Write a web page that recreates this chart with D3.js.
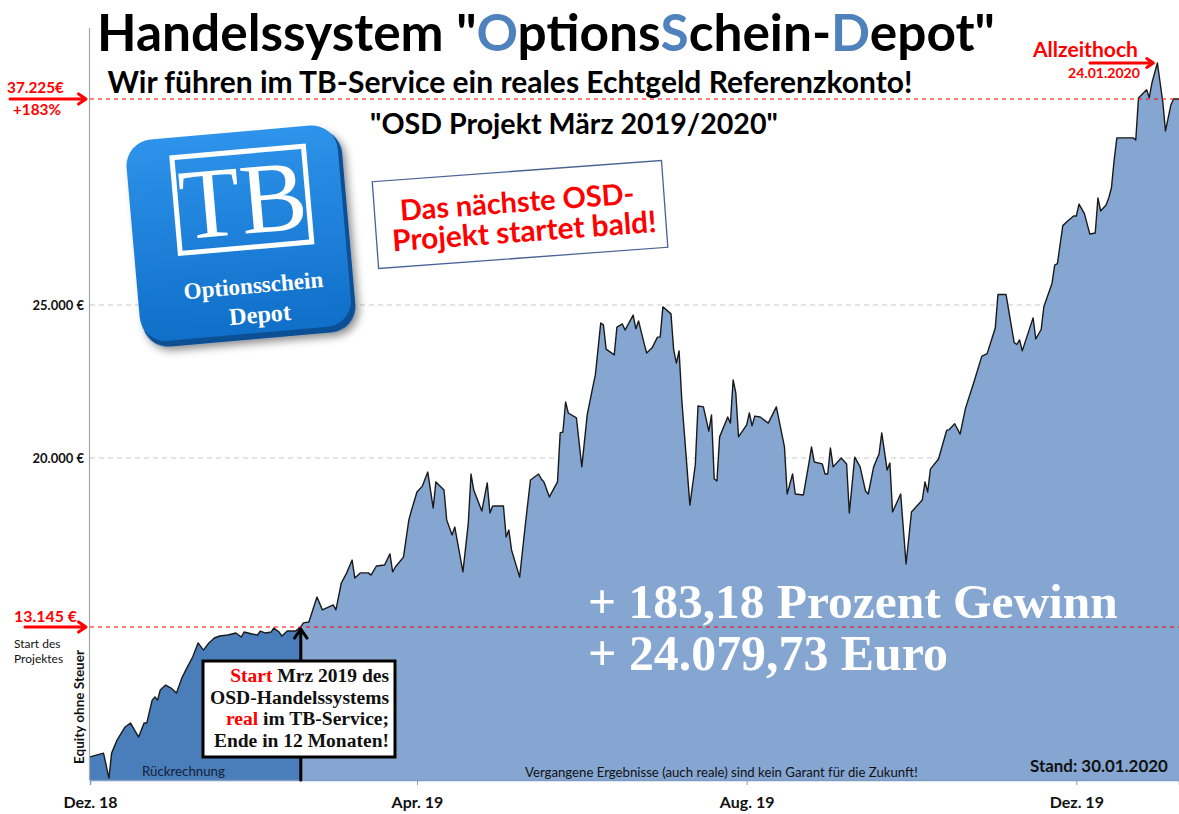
<!DOCTYPE html>
<html>
<head>
<meta charset="utf-8">
<script src="https://cdn.jsdelivr.net/npm/d3@7"></script>
<style>
  body { margin: 0; background: #fff; }
  svg { display: block; }
</style>
</head>
<body>
<svg id="chart" width="1179" height="814"></svg>
<script>
// === Daten ===
// Tage seit 01.12.2018 und Depotwert (Equity ohne Steuer, in €)
const startDate = new Date(2018, 11, 1);
const days = [0,5,7,8,10,13,15,18,20,21,23,24,25,26,28,30,32,34,36,38,
  40,42,44,46,48,51,54,56,57,60,62,63,65,67,68,70,71,73,76,78,
  79,81,84,86,90,91,93,95,97,98,100,103,104,106,109,111,112,113,116,118,
  119,121,123,125,127,128,131,132,134,135,138,140,141,142,145,147,148,149,153,154,
  155,156,159,161,163,166,167,168,170,173,174,175,176,177,180,182,184,186,187,189,
  190,191,194,195,197,198,201,202,203,205,206,208,210,211,212,215,216,217,218,219,
  222,224,225,227,229,230,231,232,233,236,237,238,239,240,243,244,245,246,248,251,
  254,257,258,260,261,264,266,267,268,271,272,273,274,275,278,280,281,283,285,287,
  288,290,292,293,295,296,297,300,302,304,308,309,310,311,314,317,318,320,322,324,
  327,330,332,335,336,339,342,343,344,345,349,350,352,353,356,357,358,360,362,364,
  365,366,368,370,372,373,374,376,377,378,379,380,386,387,388,391,392,393,395,397,
  398,400,401,403];
const equity = [7880,8030,7020,8030,8560,9090,9250,8680,9250,9250,
  10180,10310,10180,10590,10790,10670,10470,11080,11520,11930,
  12500,12210,12500,12700,12780,12820,12900,12740,12940,12860,
  12820,12980,12900,12940,13100,12940,12780,12980,12980,13145,
  13310,13350,14360,13840,14040,13840,14930,15340,15860,15130,
  15340,15340,15250,15620,15660,16110,15380,15580,15980,17490,
  17890,18620,18860,19430,17970,19030,18700,17490,16880,17200,
  15380,17360,19350,18700,17850,18990,17770,18050,18050,16800,
  17080,16270,15170,17200,19110,19350,19150,19030,18420,19030,
  20820,20850,21830,21470,21310,19640,21410,22290,22710,24410,
  24350,23560,23370,24280,24380,24180,24670,24220,24480,23760,
  23430,23600,23950,23950,24940,24710,23530,23100,23500,21900,
  18090,19720,21700,21670,20880,21410,19150,19070,20690,21340,
  21140,22550,22120,20690,21080,21470,21050,21370,21340,21140,
  21670,20360,18540,19350,18540,18500,19760,20360,19840,19760,
  19350,19350,20330,19640,20000,19760,17770,20030,19640,18660,
  18540,19640,20130,20820,19510,19800,17810,18540,15700,17810,
  18300,19030,18620,19550,19960,20900,20930,21120,20780,21630,
  22450,23320,23410,24250,25620,25620,23770,23710,23860,23500,
  24580,23890,24200,24950,26280,27370,27460,29710,30010,30280,
  30280,30990,30420,29210,29270,31350,30580,30930,31350,31960,
  33600,34920,34920,34790,37280,37780,37310,38190,39360,37060,
  35330,36870,37225,37225];
const lastDay = 403;
const projectStartDay = 78;          // Start des Projektes
const peakDay = 395;                 // Allzeithoch

const gridLevels = [20000, 25000];
const refLevels = [13145, 37225];
const refLabels = ['13.145 €', '37.225€'];
const tickDates = ['2018-12-01', '2019-04-01', '2019-08-01', '2019-12-01'];
const tickLabels = ['Dez. 18', 'Apr. 19', 'Aug. 19', 'Dez. 19'];

const rows = days.map((d, i) => ({ date: d3.timeDay.offset(startDate, d), v: equity[i] }));

// === Skalen ===
const W = 1179, H = 814;
const plot = { left: 90, right: 1179, top: 28, bottom: 780 };
const svg = d3.select('#chart');

const x = d3.scaleTime()
  .domain([startDate, d3.timeDay.offset(startDate, lastDay)])
  .range([plot.left, plot.right]);

// Achse im Original ist abschnittsweise gestaucht -> polylineare Skala
const y = d3.scaleLinear()
  .domain([6940, 13145, 20000, 25000, 37225])
  .range([plot.bottom, 627, 458, 305, 99]);

const de = d3.formatLocale({ decimal: ',', thousands: '.', grouping: [3], currency: ['', ' €'] });
const fmtEuro = de.format('$,.0f');

const blue = '#4f81bd';
const red = '#ff0000';

function fitWidth(sel, w) {
  const n = sel.node();
  const fs = parseFloat(sel.attr('font-size'));
  sel.attr('font-size', (fs * w / n.getComputedTextLength()).toFixed(2));
  return sel;
}

function arrow(g, x1, y1, x2, y2, color, sw, head) {
  const a = Math.atan2(y2 - y1, x2 - x1);
  const p = d3.path();
  p.moveTo(x1, y1); p.lineTo(x2, y2);
  p.moveTo(x2 - head * Math.cos(a - 0.6), y2 - head * Math.sin(a - 0.6));
  p.lineTo(x2, y2);
  p.lineTo(x2 - head * Math.cos(a + 0.6), y2 - head * Math.sin(a + 0.6));
  g.append('path').attr('d', p.toString()).attr('fill', 'none')
    .attr('stroke', color).attr('stroke-width', sw)
    .attr('stroke-linecap', 'round').attr('stroke-linejoin', 'round');
}

// === Flächen ===
const defs = svg.append('defs');
const xStart = x(d3.timeDay.offset(startDate, projectStartDay));
defs.append('clipPath').attr('id', 'clipBack')
  .append('rect').attr('x', plot.left).attr('y', 0).attr('width', xStart - plot.left).attr('height', H);
defs.append('clipPath').attr('id', 'clipReal')
  .append('rect').attr('x', xStart).attr('y', 0).attr('width', plot.right - xStart).attr('height', H);

// Gitterlinien
svg.append('g').selectAll('line').data(gridLevels).join('line')
  .attr('x1', plot.left).attr('x2', plot.right)
  .attr('y1', d => y(d)).attr('y2', d => y(d))
  .attr('stroke', '#c9c9c9').attr('stroke-width', 1).attr('stroke-dasharray', '5,4');

const area = d3.area().x(d => x(d.date)).y0(plot.bottom).y1(d => y(d.v));
const line = d3.line().x(d => x(d.date)).y(d => y(d.v));

svg.append('path').datum(rows).attr('d', area).attr('fill', '#4a7ebb').attr('clip-path', 'url(#clipBack)');
svg.append('path').datum(rows).attr('d', area).attr('fill', '#85a6d1').attr('clip-path', 'url(#clipReal)');
svg.append('path').datum(rows).attr('d', line).attr('fill', 'none')
  .attr('stroke', '#1a1a1a').attr('stroke-width', 1.4).attr('stroke-linejoin', 'round');

// Referenzlinien (rot gestrichelt)
svg.append('g').selectAll('line').data(refLevels).join('line')
  .attr('x1', plot.left).attr('x2', plot.right)
  .attr('y1', d => y(d)).attr('y2', d => y(d))
  .attr('stroke', red).attr('stroke-width', 1).attr('stroke-dasharray', '4,4');

// === Achsen ===
svg.append('line').attr('x1', plot.left - 0.5).attr('x2', plot.left - 0.5)
  .attr('y1', plot.top).attr('y2', plot.bottom).attr('stroke', '#a6a6a6').attr('stroke-width', 1.2);

const yAxis = svg.append('g').attr('transform', `translate(${plot.left - 4},0)`)
  .call(d3.axisLeft(y).tickValues(gridLevels).tickFormat(fmtEuro).tickSize(0).tickPadding(2));
yAxis.select('.domain').remove();
yAxis.selectAll('text').attr('font-family', 'Lato, sans-serif').attr('font-weight', 700)
  .attr('font-size', 13).attr('fill', '#111');

const xAxis = svg.append('g').attr('transform', `translate(0,${plot.bottom})`)
  .call(d3.axisBottom(x).tickValues(tickDates.map(d => d3.timeParse('%Y-%m-%d')(d)))
    .tickFormat((d, i) => tickLabels[i]).tickSize(5).tickPadding(12));
xAxis.select('.domain').attr('stroke', '#7f9cc4').attr('stroke-width', 1.5);
xAxis.selectAll('.tick line').attr('stroke', '#7f9cc4');
xAxis.selectAll('text').attr('font-family', 'Lato, sans-serif').attr('font-weight', 700)
  .attr('font-size', 16).attr('fill', '#111');

// Achsentitel
fitWidth(svg.append('text').attr('transform', 'translate(84,707) rotate(-90)')
  .attr('text-anchor', 'middle').attr('font-family', 'Lato, sans-serif').attr('font-weight', 700)
  .attr('font-size', 12).attr('fill', '#111').text('Equity ohne Steuer'), 114);

// === linke rote Markierungen ===
const lab = svg.append('g').attr('font-family', 'Lato, sans-serif').attr('font-weight', 700).attr('fill', red);
fitWidth(lab.append('text').attr('x', 7).attr('y', 93).attr('font-size', 15).text(refLabels[1]), 57);
fitWidth(lab.append('text').attr('x', 13).attr('y', 115).attr('font-size', 15).text('+183%'), 48);
fitWidth(lab.append('text').attr('x', 14).attr('y', 622).attr('font-size', 15).text(refLabels[0]), 63);
arrow(svg, 10, y(refLevels[1]), plot.left - 4, y(refLevels[1]), red, 3, 9);
arrow(svg, 25, y(refLevels[0]), plot.left - 4, y(refLevels[0]), red, 3, 9);

svg.append('g').attr('font-family', 'Lato, sans-serif').attr('font-size', 12).attr('fill', '#111')
  .selectAll('text').data(['Start des', 'Projektes']).join('text')
  .attr('x', 14).attr('y', (d, i) => 648 + i * 15).text(d => d);

// === Allzeithoch ===
const peakX = x(d3.timeDay.offset(startDate, peakDay));
const ath = svg.append('g').attr('font-family', 'Lato, sans-serif').attr('font-weight', 700).attr('fill', red);
fitWidth(ath.append('text').attr('x', 1033).attr('y', 57).attr('font-size', 17).text('Allzeithoch'), 105);
fitWidth(ath.append('text').attr('x', 1068).attr('y', 78).attr('font-size', 12).text('24.01.2020'), 72);
arrow(svg, 1090, 63, peakX - 4, 63, red, 3, 8);

// === Titel ===
const title = svg.append('text').attr('x', 546).attr('y', 51).attr('text-anchor', 'middle')
  .attr('font-family', 'Lato, sans-serif').attr('font-weight', 700).attr('font-size', 50).attr('fill', '#000');
title.append('tspan').text('Handelssystem "');
title.append('tspan').attr('fill', blue).text('O');
title.append('tspan').text('ptions');
title.append('tspan').attr('fill', blue).text('S');
title.append('tspan').text('chein-');
title.append('tspan').attr('fill', blue).text('D');
title.append('tspan').text('epot"');
fitWidth(title, 898);

fitWidth(svg.append('text').attr('x', 510).attr('y', 93).attr('text-anchor', 'middle')
  .attr('font-family', 'Lato, sans-serif').attr('font-weight', 700).attr('font-size', 26).attr('fill', '#000')
  .text('Wir führen im TB-Service ein reales Echtgeld Referenzkonto!'), 805);

fitWidth(svg.append('text').attr('x', 574).attr('y', 134).attr('text-anchor', 'middle')
  .attr('font-family', 'Lato, sans-serif').attr('font-weight', 700).attr('font-size', 24).attr('fill', '#000')
  .text('"OSD Projekt März 2019/2020"'), 408);

// === Logo ===
const grad = defs.append('linearGradient').attr('id', 'logoGrad').attr('x1', 0).attr('y1', 0).attr('x2', 0).attr('y2', 1);
grad.append('stop').attr('offset', 0).attr('stop-color', '#2e93ea');
grad.append('stop').attr('offset', 1).attr('stop-color', '#0f6fc9');
const shadow = defs.append('filter').attr('id', 'shadow').attr('x', -0.2).attr('y', -0.2).attr('width', 1.4).attr('height', 1.4);
shadow.append('feDropShadow').attr('dx', 3).attr('dy', 4).attr('stdDeviation', 4).attr('flood-color', '#000').attr('flood-opacity', 0.45);

const logo = svg.append('g').attr('transform', 'translate(241,236) rotate(-5)');
logo.append('rect').attr('x', -106).attr('y', -100).attr('width', 214).attr('height', 204).attr('rx', 26)
  .attr('fill', '#0a4f95').attr('filter', 'url(#shadow)');
logo.append('rect').attr('x', -108).attr('y', -104).attr('width', 212).attr('height', 202).attr('rx', 26)
  .attr('fill', 'url(#logoGrad)');
logo.append('rect').attr('x', -62).attr('y', -84).attr('width', 132).attr('height', 96)
  .attr('fill', 'none').attr('stroke', '#fff').attr('stroke-width', 5);
logo.append('text').attr('x', 5).attr('y', -2).attr('text-anchor', 'middle')
  .attr('font-family', '"Liberation Serif", serif').attr('font-size', 100).attr('fill', '#fff').text('TB');
const lt = logo.append('g').attr('font-family', '"Liberation Serif", serif').attr('font-weight', 700)
  .attr('fill', '#fff').attr('text-anchor', 'middle');
fitWidth(lt.append('text').attr('x', 8).attr('y', 58).attr('font-size', 24).text('Optionsschein'), 140);
fitWidth(lt.append('text').attr('x', 12).attr('y', 88).attr('font-size', 24).text('Depot'), 62);

// === Hinweis-Box ===
const note = svg.append('g').attr('transform', 'translate(520,214) rotate(-4.2)');
note.append('rect').attr('x', -145).attr('y', -43).attr('width', 290).attr('height', 87)
  .attr('fill', '#fff').attr('stroke', '#4a6394').attr('stroke-width', 1.3);
const nt = note.append('g').attr('font-family', 'Lato, sans-serif').attr('font-weight', 700)
  .attr('fill', red).attr('text-anchor', 'middle');
fitWidth(nt.append('text').attr('x', -2).attr('y', -2).attr('font-size', 26).text('Das nächste OSD-'), 235);
fitWidth(nt.append('text').attr('x', 3).attr('y', 28).attr('font-size', 26).text('Projekt startet bald!'), 265);

// === Start-Pfeil und Box ===
arrow(svg, xStart, plot.bottom, xStart, y(refLevels[0]) + 2, '#000', 3, 11);

svg.append('rect').attr('x', 203).attr('y', 661).attr('width', 192).attr('height', 96)
  .attr('fill', '#fff').attr('stroke', '#000').attr('stroke-width', 3);
const boxLines = [
  [['Start', red], [' Mrz 2019 des', '#111']],
  [['OSD-Handelssystems', '#111']],
  [['real', red], [' im TB-Service;', '#111']],
  [['Ende in 12 Monaten!', '#111']]
];
const bt = svg.append('g').attr('font-family', '"Liberation Serif", serif').attr('font-weight', 700)
  .attr('text-anchor', 'end');
boxLines.forEach((parts, i) => {
  const t = bt.append('text').attr('x', 389).attr('y', 682 + i * 21.5).attr('font-size', 17);
  parts.forEach(([s, c]) => t.append('tspan').attr('fill', c).text(s));
});
const widest = bt.selectAll('text').filter((d, i) => i === 1);
const k = 179 / widest.node().getComputedTextLength();
bt.selectAll('text').attr('font-size', (17 * k).toFixed(2));

// === Fußzeilen ===
fitWidth(svg.append('text').attr('x', 142).attr('y', 776).attr('font-family', 'Lato, sans-serif')
  .attr('font-size', 12).attr('fill', '#14213a').text('Rückrechnung'), 83);
fitWidth(svg.append('text').attr('x', 525).attr('y', 777).attr('font-family', 'Lato, sans-serif')
  .attr('font-size', 11).attr('fill', '#111')
  .text('Vergangene Ergebnisse (auch reale) sind kein Garant für die Zukunft!'), 393);
fitWidth(svg.append('text').attr('x', 1030).attr('y', 772).attr('font-family', 'Lato, sans-serif')
  .attr('font-weight', 700).attr('font-size', 14).attr('fill', '#111')
  .text('Stand: 30.01.2020'), 138);

// === Gewinn ===
const gain = svg.append('g').attr('font-family', '"Liberation Serif", serif').attr('font-weight', 700).attr('fill', '#fff');
fitWidth(gain.append('text').attr('x', 588).attr('y', 618).attr('font-size', 44).text('+ 183,18 Prozent Gewinn'), 530);
fitWidth(gain.append('text').attr('x', 588).attr('y', 670).attr('font-size', 44).text('+ 24.079,73 Euro'), 360);
</script>
</body>
</html>
